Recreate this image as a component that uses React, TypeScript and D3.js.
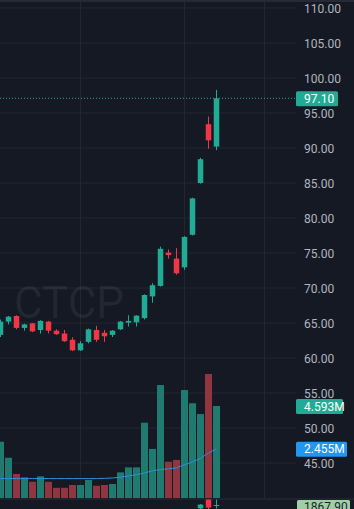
import React from "react";
import * as d3 from "d3";

const W = 354;
const H = 509;

// OHLC data
const opens = [63.3, 65.2, 66.0, 64.3, 64.95, 64.0, 65.2, 63.9, 63.5, 62.6, 61.1, 62.3, 64.0, 63.6, 63.3, 64.1, 65.05, 65.1, 65.7, 68.8, 70.3, 75.05, 74.2, 72.95, 77.6, 85.0, 93.4, 90.2];
const highs = [65.5, 66.0, 66.1, 64.9, 65.0, 65.4, 65.3, 64.1, 64.0, 62.95, 62.4, 64.2, 64.6, 64.0, 64.0, 65.3, 66.1, 66.1, 69.1, 70.7, 75.9, 75.5, 75.7, 77.4, 82.9, 88.6, 94.5, 98.3];
const lows = [63.0, 64.8, 64.1, 63.9, 63.7, 63.5, 63.5, 63.3, 62.3, 61.0, 61.0, 62.1, 62.3, 62.3, 63.0, 64.0, 64.5, 64.5, 65.5, 67.9, 70.2, 74.2, 71.9, 72.6, 77.5, 84.9, 89.9, 89.7];
const closes = [65.2, 65.9, 64.3, 64.8, 63.8, 65.3, 63.9, 63.4, 62.4, 61.1, 62.1, 64.1, 62.6, 63.1, 63.9, 65.2, 65.3, 66.05, 69.0, 70.4, 75.6, 74.7, 72.1, 77.3, 82.8, 88.4, 91.1, 97.1];

// Volume in millions
const volumes = [2.81, 2.01, 1.2, 1.03, 0.81, 1.08, 0.81, 0.51, 0.51, 0.65, 0.65, 0.9, 0.61, 0.65, 0.7, 1.28, 1.53, 1.53, 3.76, 2.45, 5.64, 1.81, 1.9, 5.39, 4.73, 4.19, 6.19, 4.593];
const volumeMA = [0.97, 0.97, 0.97, 0.97, 0.97, 0.97, 0.97, 0.97, 0.97, 0.97, 0.97, 0.97, 0.97, 0.98, 1.0, 1.04, 1.1, 1.17, 1.25, 1.36, 1.42, 1.46, 1.5, 1.66, 1.8, 1.98, 2.25, 2.455];

const priceTicks = [110, 105, 100, 95, 90, 85, 80, 75, 70, 65, 60, 55, 50, 45];
const gridIndices = [10, 23, 33];

// small lower pane (partially visible)
const miniIdx = [25, 26, 27];
const miniOpen = [1866.2, 1871.1, 1867.7];
const miniHigh = [1868.4, 1871.6, 1871.1];
const miniLow = [1866.0, 1865.9, 1866.1];
const miniClose = [1868.1, 1866.6, 1867.9];
const miniLast = 1867.9;

const lastPrice = 97.1;
const lastVolume = 4.593;
const lastMA = 2.455;

const BG = "#151924";
const GRID = "#222632";
const TEXT = "#b2b5be";
const UP = "#22ab94";
const DOWN = "#f23645";
const UP_VOL = "#1f7a6f";
const DOWN_VOL = "#8f3641";
const MA_COLOR = "#2f8fdc";
const FONT = "Roboto, 'Noto Sans', sans-serif";

export default function App() {
  const x = d3.scaleLinear().domain([0, 27]).range([0.5, 216.5]);
  const y = d3.scaleLinear().domain([45, 110]).range([463, 8]);
  const yv = d3.scaleLinear().domain([0, lastVolume]).range([498, 406]);
  const ym = d3.scaleLinear().domain([miniLast, miniLast + 1]).range([505, 503]);
  const plotRight = 296;

  const idx = d3.range(opens.length);
  const maLine = d3
    .line<number>()
    .x((i) => x(i))
    .y((i) => yv(volumeMA[i]));

  const bodyW = 5.5;
  const volW = 7;

  return (
    <div style={{ position: "fixed", left: 0, top: 0, width: W, height: H }}>
      <svg width={W} height={H} style={{ display: "block", background: BG }}>
        <defs>
          <clipPath id="pane">
            <rect x={0} y={2} width={plotRight} height={496.5} />
          </clipPath>
          <clipPath id="mini">
            <rect x={0} y={499.5} width={plotRight} height={10} />
          </clipPath>
        </defs>
        <rect x={0} y={0} width={W} height={H} fill={BG} />
        <rect x={0} y={0} width={W} height={2} fill="#262a36" />

        {/* grid */}
        <g clipPath="url(#pane)">
          {priceTicks.map((t) => (
            <line key={"h" + t} x1={0} x2={plotRight} y1={y(t)} y2={y(t)} stroke={GRID} strokeWidth={1} />
          ))}
          {gridIndices.map((g) => (
            <line key={"v" + g} x1={x(g)} x2={x(g)} y1={0} y2={498} stroke={GRID} strokeWidth={1} />
          ))}
        </g>

        {/* watermark */}
        <text x={14} y={318} fontFamily={FONT} fontSize={44} fill="#ffffff" fillOpacity={0.06}>
          CTCP
        </text>

        <g clipPath="url(#pane)">
          {/* volume */}
          {idx.map((i) => (
            <rect
              key={"v" + i}
              x={x(i) - volW / 2}
              width={volW}
              y={yv(volumes[i])}
              height={yv(0) - yv(volumes[i])}
              fill={closes[i] >= opens[i] ? UP_VOL : DOWN_VOL}
            />
          ))}
          <path d={maLine(idx) || ""} fill="none" stroke={MA_COLOR} strokeWidth={1} />

          {/* last price dotted line */}
          <line x1={0} x2={plotRight} y1={y(lastPrice)} y2={y(lastPrice)} stroke={UP} strokeWidth={1} strokeDasharray="1 2" />

          {/* candles */}
          {idx.map((i) => {
            const up = closes[i] >= opens[i];
            const c = up ? UP : DOWN;
            const top = y(Math.max(opens[i], closes[i]));
            const bot = y(Math.min(opens[i], closes[i]));
            return (
              <g key={"c" + i}>
                <line x1={x(i)} x2={x(i)} y1={y(highs[i])} y2={y(lows[i])} stroke={c} strokeWidth={1} />
                <rect x={x(i) - bodyW / 2} width={bodyW} y={top} height={Math.max(1, bot - top)} fill={c} />
              </g>
            );
          })}
        </g>

        {/* lower pane separator and mini candles */}
        <line x1={0} x2={W} y1={499} y2={499} stroke="#2a2e39" strokeWidth={1} />
        <g clipPath="url(#mini)">
          {miniIdx.map((k, j) => {
            const up = miniClose[j] >= miniOpen[j];
            const c = up ? UP : DOWN;
            const top = ym(Math.max(miniOpen[j], miniClose[j]));
            const bot = ym(Math.min(miniOpen[j], miniClose[j]));
            return (
              <g key={"m" + j}>
                <line x1={x(k)} x2={x(k)} y1={ym(miniHigh[j])} y2={ym(miniLow[j])} stroke={c} strokeWidth={1} />
                <rect x={x(k) - bodyW / 2} width={bodyW} y={top} height={Math.max(1, bot - top)} fill={c} />
              </g>
            );
          })}
        </g>

        {/* price axis labels */}
        {priceTicks.map((t) => (
          <text
            key={"t" + t}
            x={304}
            y={y(t) + 1}
            dominantBaseline="central"
            fontFamily={FONT}
            fontSize={12}
            fill={TEXT}
          >
            {t.toFixed(2)}
          </text>
        ))}

        {/* last price tag */}
        <rect x={296} y={y(lastPrice) - 7} width={42} height={15} rx={1.5} fill={UP} />
        <text x={304} y={y(lastPrice) + 0.5} dominantBaseline="central" fontFamily={FONT} fontSize={12} fill="#ffffff">
          {lastPrice.toFixed(2)}
        </text>

        {/* volume tag */}
        <rect x={296} y={yv(lastVolume) - 7} width={47} height={15} rx={1.5} fill={UP} />
        <text x={304} y={yv(lastVolume) + 0.5} dominantBaseline="central" fontFamily={FONT} fontSize={12} fill="#ffffff">
          {lastVolume.toFixed(3) + "M"}
        </text>

        {/* MA tag */}
        <rect x={296} y={yv(lastMA) - 7} width={51} height={15} rx={1.5} fill="#2196f3" />
        <text x={304} y={yv(lastMA) + 0.5} dominantBaseline="central" fontFamily={FONT} fontSize={12} fill="#ffffff">
          {lastMA.toFixed(3) + "M"}
        </text>

        {/* mini pane tag */}
        <rect x={297} y={500} width={53} height={15} rx={1.5} fill="#9fd0a5" />
        <text x={304} y={507} dominantBaseline="central" fontFamily={FONT} fontSize={12} fill="#1b1f2a">
          {miniLast.toFixed(2)}
        </text>
      </svg>
    </div>
  );
}
